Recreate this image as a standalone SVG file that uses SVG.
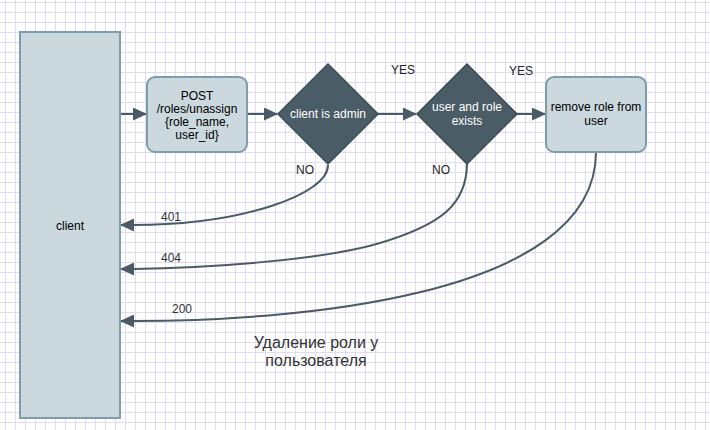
<svg xmlns="http://www.w3.org/2000/svg" width="710" height="430" viewBox="0 0 710 430">
  <style>
    text { font-family: "Liberation Sans", Arial, sans-serif; font-size: 12px; text-anchor: middle; }
    .box { fill: #cbd8de; stroke: #7d9cac; stroke-width: 2; }
    .dec { fill: #4a5c65; stroke: #3d4d55; stroke-width: 1.5; }
    .dec-text { fill: #ffffff; }
    .edge { fill: none; stroke: #4a5b63; stroke-width: 2; }
    .lbl { fill: #222222; }
    .code { fill: #333333; }
    .title { font-size: 16px; fill: #333333; }
  </style>
  <defs>
    <pattern id="grid" x="5" y="2" width="10" height="10" patternUnits="userSpaceOnUse">
      <path d="M0.5 0V10M0 0.5H10" fill="none" stroke="#dedbf3" stroke-width="1"/>
    </pattern>
    <marker id="arrow" viewBox="0 0 14 13" refX="13" refY="6.5" markerWidth="14" markerHeight="13" markerUnits="userSpaceOnUse" orient="auto">
      <path d="M0 0L14 6.5L0 13Z" fill="#4a5b63"/>
    </marker>
  </defs>

  <rect width="710" height="430" fill="#ffffff"/>
  <rect width="710" height="430" fill="url(#grid)"/>

  <g id="connectors">
    <path class="edge" d="M120 114H146" marker-end="url(#arrow)"/>
    <path class="edge" d="M247 114H277" marker-end="url(#arrow)"/>
    <path class="edge" d="M378 114H416" marker-end="url(#arrow)"/>
    <path class="edge" d="M517 114H545" marker-end="url(#arrow)"/>
    <path class="edge" d="M328 165C328 195 240 225 133 225L121 225" marker-end="url(#arrow)"/>
    <path class="edge" d="M467 163C467 205 440 225 380 243S200 268 133 269L121 269" marker-end="url(#arrow)"/>
    <path class="edge" d="M596 152C596 300 283 321 133 321L121 321" marker-end="url(#arrow)"/>
  </g>

  <g id="client">
    <rect class="box" x="20" y="32" width="100" height="386"/>
    <text x="70" y="230">client</text>
  </g>

  <g id="request">
    <rect class="box" x="147" y="77" width="100" height="75" rx="8"/>
    <text x="197" y="100">POST</text>
    <text x="197" y="113">/roles/unassign</text>
    <text x="197" y="126">{role_name,</text>
    <text x="197" y="139">user_id}</text>
  </g>

  <g id="is-admin">
    <path class="dec" d="M328 64L378 114L328 164L278 114Z"/>
    <text class="dec-text" x="328" y="118">client is admin</text>
  </g>

  <g id="exists">
    <path class="dec" d="M467 64L517 114L467 164L417 114Z"/>
    <text class="dec-text" x="467" y="111">user and role</text>
    <text class="dec-text" x="467" y="125">exists</text>
  </g>

  <g id="remove">
    <rect class="box" x="546" y="77" width="100" height="75" rx="8"/>
    <text x="596" y="111">remove role from</text>
    <text x="596" y="125">user</text>
  </g>

  <g id="labels">
    <text class="lbl" x="403" y="74">YES</text>
    <text class="lbl" x="521" y="75">YES</text>
    <text class="lbl" x="305" y="174">NO</text>
    <text class="lbl" x="441" y="174">NO</text>
    <text class="code" x="171" y="221">401</text>
    <text class="code" x="171" y="262">404</text>
    <text class="code" x="182" y="313">200</text>
  </g>

  <g id="title">
    <text class="title" x="316" y="348">Удаление роли у</text>
    <text class="title" x="316" y="366">пользователя</text>
  </g>
</svg>
